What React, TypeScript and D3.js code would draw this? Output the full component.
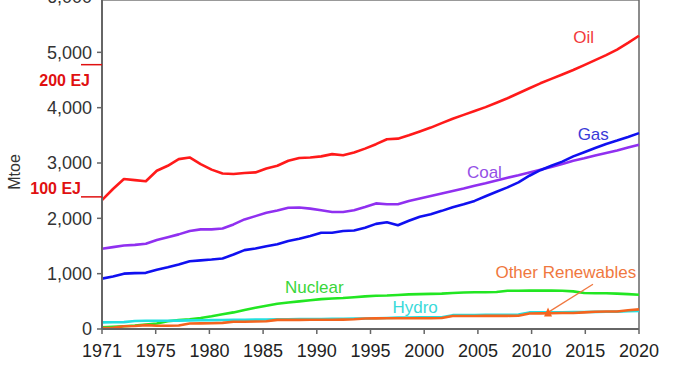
import React from "react";
import * as d3 from "d3";

const years: number[] = d3.range(1971, 2021);

const oil = [2330, 2530, 2710, 2690, 2670, 2860, 2950, 3070, 3100, 2980, 2880, 2810, 2800, 2820, 2830, 2900, 2950, 3040, 3090, 3100, 3120, 3160, 3140, 3190, 3260, 3340, 3430, 3440, 3500, 3570, 3640, 3720, 3800, 3870, 3940, 4010, 4090, 4170, 4260, 4350, 4440, 4520, 4600, 4680, 4770, 4860, 4950, 5050, 5170, 5300];
const coal = [1450, 1480, 1510, 1520, 1540, 1610, 1660, 1710, 1770, 1800, 1800, 1815, 1890, 1980, 2040, 2100, 2140, 2190, 2195, 2175, 2145, 2115, 2115, 2145, 2205, 2270, 2255, 2255, 2315, 2360, 2405, 2450, 2495, 2540, 2590, 2635, 2685, 2735, 2780, 2830, 2880, 2930, 2980, 3040, 3085, 3135, 3180, 3225, 3280, 3330];
const gas = [910, 950, 1000, 1010, 1015, 1070, 1115, 1165, 1225, 1240, 1255, 1275, 1345, 1425, 1455, 1495, 1530, 1590, 1630, 1680, 1740, 1740, 1770, 1780, 1830, 1900, 1930, 1875, 1955, 2030, 2075, 2135, 2200, 2255, 2315, 2400, 2480, 2560, 2650, 2770, 2870, 2950, 3025, 3120, 3195, 3270, 3345, 3405, 3470, 3540];
const nuclear = [30, 38, 50, 62, 80, 100, 140, 160, 175, 200, 230, 265, 300, 345, 385, 420, 455, 480, 500, 520, 540, 550, 560, 575, 590, 600, 605, 615, 625, 630, 635, 640, 650, 660, 665, 665, 670, 690, 692, 693, 693, 693, 690, 680, 650, 645, 645, 640, 630, 620];
const hydro = [120, 122, 125, 145, 150, 150, 150, 152, 155, 158, 160, 162, 165, 168, 170, 172, 174, 176, 178, 180, 182, 184, 186, 188, 190, 195, 200, 205, 208, 210, 211, 212, 250, 252, 254, 255, 256, 258, 260, 300, 300, 302, 303, 305, 308, 310, 312, 314, 320, 325];
const otherRenewables = [15, 20, 50, 55, 70, 60, 60, 62, 100, 102, 105, 110, 130, 132, 135, 140, 165, 165, 165, 166, 167, 168, 170, 175, 190, 192, 193, 194, 194, 195, 195, 200, 235, 235, 236, 237, 238, 238, 240, 280, 283, 285, 288, 290, 300, 313, 315, 317, 340, 355];

const xTickLabels = ["1971", "1975", "1980", "1985", "1990", "1995", "2000", "2005", "2010", "2015", "2020"];
const yTicks = [0, 1000, 2000, 3000, 4000, 5000, 6000];
const ejMarks = [
  { label: "100 EJ", value: 2388 },
  { label: "200 EJ", value: 4777 },
];

const series = [
  { name: "Oil", values: oil, color: "#ff1a1a", text: "#f23a3a", lx: 2014.0, ly: 5170 },
  { name: "Coal", values: coal, color: "#9030f0", text: "#9450e6", lx: 2004.3, ly: 2730 },
  { name: "Gas", values: gas, color: "#1010f0", text: "#3a3ad8", lx: 2014.4, ly: 3420 },
  { name: "Nuclear", values: nuclear, color: "#22e622", text: "#3ad63a", lx: 1987.7, ly: 650 },
  { name: "Hydro", values: hydro, color: "#22e0e0", text: "#3adada", lx: 1997.5, ly: 285 },
  { name: "Other Renewables", values: otherRenewables, color: "#f5641e", text: "#f07840", lx: 2006.9, ly: 920 },
];

const arrowFrom = { year: 2015.8, value: 810 };
const arrowTo = { year: 2011.7, value: 300 };

export default function App() {
  const W = 678;
  const H = 381;
  const left = 102;
  const right = 639;
  const x = d3.scaleLinear().domain([1971, 2020]).range([left, right]);
  const xt = d3.scalePoint<string>().domain(xTickLabels).range([left, right]);
  const y = d3.scaleLinear().domain([0, 6000]).range([329, -3]);
  const line = (vals: number[]) =>
    d3
      .line<number>()
      .x((_, i) => x(years[i]))
      .y((v) => y(v))(vals) as string;
  const font = "'Liberation Sans', Arial, sans-serif";
  const axisColor = "#666";
  const ax = x(arrowTo.year);
  const ay = y(arrowTo.value);

  return (
    <svg
      width={W}
      height={H}
      style={{ position: "absolute", left: 0, top: 0, background: "#fff" }}
      fontFamily={font}
    >
      {/* frame */}
      <line x1={left} x2={right} y1={0.5} y2={0.5} stroke="#999" strokeWidth={1} />
      <line x1={right} x2={right} y1={0} y2={y(0)} stroke={axisColor} strokeWidth={1.5} />
      {/* y ticks */}
      {yTicks.map((t) => (
        <g key={t}>
          <line x1={left - 5} x2={left} y1={y(t)} y2={y(t)} stroke={axisColor} strokeWidth={1.5} />
          <text x={92} y={y(t)} dy="0.35em" textAnchor="end" fontSize={18} fill="#333">
            {d3.format(",")(t)}
          </text>
        </g>
      ))}
      {/* x ticks */}
      {xTickLabels.map((t) => (
        <g key={t}>
          <line x1={xt(t)} x2={xt(t)} y1={y(0)} y2={y(0) + 5} stroke={axisColor} strokeWidth={1.5} />
          <text x={xt(t)} y={357} textAnchor="middle" fontSize={18} fill="#222">
            {t}
          </text>
        </g>
      ))}
      <text transform={`translate(20,172) rotate(-90)`} textAnchor="middle" fontSize={16} fill="#333">
        Mtoe
      </text>
      {/* series */}
      {series.map((s) => (
        <path key={s.name} d={line(s.values)} fill="none" stroke={s.color} strokeWidth={2.6} strokeLinejoin="round" />
      ))}
      {/* axes */}
      <line x1={left} x2={left} y1={0} y2={y(0)} stroke={axisColor} strokeWidth={2} />
      <line x1={left} x2={right} y1={y(0)} y2={y(0)} stroke={axisColor} strokeWidth={2} />
      {/* EJ markers */}
      {ejMarks.map((m, i) => (
        <g key={m.label}>
          <line x1={81} x2={left} y1={y(m.value)} y2={y(m.value)} stroke="#e01010" strokeWidth={1.5} />
          <text
            x={i === 0 ? 81 : 90}
            y={i === 0 ? y(m.value) - 3 : y(m.value) + 21}
            textAnchor="end"
            fontSize={16}
            fontWeight="bold"
            fill="#e01010"
          >
            {m.label}
          </text>
        </g>
      ))}
      {/* labels */}
      {series.map((s) => (
        <text key={s.name + "l"} x={x(s.lx)} y={y(s.ly)} fontSize={17} fill={s.text}>
          {s.name}
        </text>
      ))}
      {/* arrow */}
      <line
        x1={x(arrowFrom.year)}
        y1={y(arrowFrom.value)}
        x2={ax}
        y2={ay}
        stroke="#f07840"
        strokeWidth={1.3}
      />
      <path d={`M${ax},${ay - 5}L${ax - 4},${ay + 4}L${ax + 4},${ay + 4}Z`} fill="#f5641e" />
    </svg>
  );
}
